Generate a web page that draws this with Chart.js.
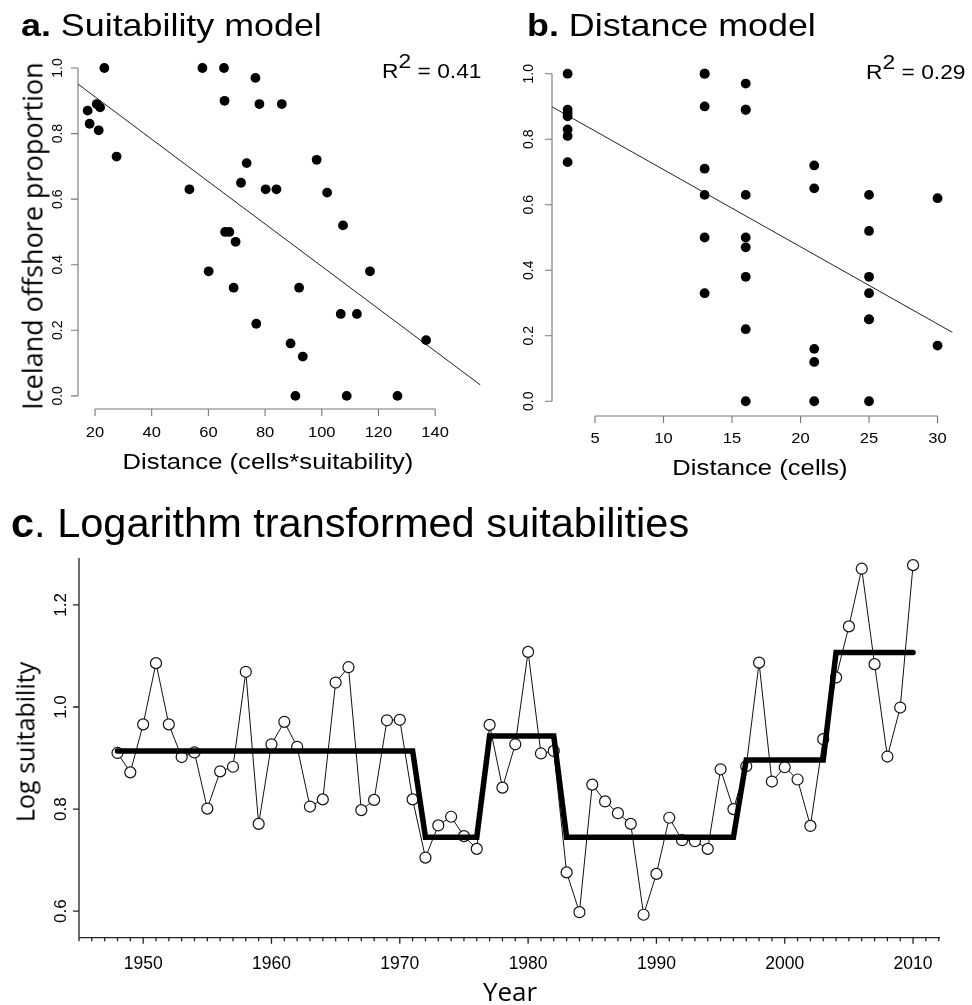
<!DOCTYPE html>
<html>
<head>
<meta charset="utf-8">
<script src="https://cdn.jsdelivr.net/npm/chart.js@4.4.1/dist/chart.umd.min.js"></script>
<style>
body { margin:0; background:#fff; width:972px; height:1005px; overflow:hidden; position:relative;
       font-family:"Liberation Sans", Arial, sans-serif; color:#000; }
.box { position:absolute; }
.t { position:absolute; white-space:nowrap; line-height:1; }
.os { font-family:"Open Sans", sans-serif; }
.sup { position:relative; top:-10px; }
</style>
</head>
<body>
<div class="box" style="left:0;top:0;width:490px;height:500px"><canvas id="chA"></canvas></div>
<div class="box" style="left:490px;top:0;width:482px;height:500px"><canvas id="chB"></canvas></div>
<div class="box" style="left:0;top:500px;width:972px;height:505px"><canvas id="chC"></canvas></div>

<div class="t" style="left:20.7px;top:8.9px;font-size:32px;transform:scaleX(1.12);transform-origin:0 0"><b>a.</b> Suitability model</div>
<div class="t" style="left:527px;top:8.9px;font-size:32px;transform:scaleX(1.12);transform-origin:0 0"><b>b.</b> Distance model</div>
<div class="t" style="left:11px;top:501.5px;font-size:41.5px"><b>c</b>. Logarithm transformed suitabilities</div>

<div class="t" style="left:381.7px;top:61.1px;font-size:20px;transform:scaleX(1.14);transform-origin:0 0">R<span class="sup">2</span> = 0.41</div>
<div class="t" style="left:865.7px;top:62.1px;font-size:20px;transform:scaleX(1.14);transform-origin:0 0">R<span class="sup">2</span> = 0.29</div>

<div class="t" style="left:268px;top:451px;font-size:22.5px;transform:translateX(-50%) scaleX(1.14)">Distance (cells*suitability)</div>
<div class="t" style="left:760px;top:457px;font-size:22.5px;transform:translateX(-50%) scaleX(1.14)">Distance (cells)</div>

<div class="t os" style="left:31.5px;top:236px;font-size:27px;transform:translate(-50%,-50%) rotate(-90deg)">Iceland offshore proportion</div>
<div class="t os" style="left:25.3px;top:742px;font-size:25px;transform:translate(-50%,-50%) rotate(-90deg)">Log suitability</div>
<div class="t os" style="left:510px;top:978px;font-size:26px;transform:translateX(-50%)">Year</div>

<script>
// panel a: proportion vs distance*suitability
let xA = [17.4, 18.1, 20.6, 21.3, 21.8, 23.3, 27.6, 53.3, 57.9, 60.1, 65.5, 65.7, 65.9, 67.4, 68.9, 69.6, 71.5, 73.5, 76.6,
          76.9, 78.0, 80.2, 84.0, 85.9, 89.0, 90.7, 92.0, 93.3, 98.2, 101.9, 106.7, 107.5, 108.8, 112.4, 117.0, 126.7, 136.8];
let yA = [0.87, 0.83, 0.89, 0.81, 0.88, 1.00, 0.73, 0.63, 1.00, 0.38, 1.00, 0.90, 0.50, 0.50, 0.33, 0.47, 0.65, 0.71, 0.97,
          0.22, 0.89, 0.63, 0.63, 0.89, 0.16, 0.00, 0.33, 0.12, 0.72, 0.62, 0.25, 0.52, 0.00, 0.25, 0.38, 0.00, 0.17];
let fitAX = [14, 156];
let fitAY = [0.951, 0.033];

// panel b: proportion vs distance in cells
let xB = [3, 3, 3, 3, 3, 3, 3, 13, 13, 13, 13, 13, 13, 13, 16, 16, 16, 16, 16, 16, 16, 16, 16,
          21, 21, 21, 21, 21, 25, 25, 25, 25, 25, 25, 25, 30, 30];
let yB = [1.00, 0.89, 0.88, 0.87, 0.83, 0.81, 0.73, 1.00, 1.00, 0.90, 0.71, 0.63, 0.50, 0.33,
          0.97, 0.89, 0.89, 0.63, 0.50, 0.47, 0.38, 0.22, 0.00,
          0.72, 0.65, 0.16, 0.12, 0.00, 0.63, 0.52, 0.38, 0.33, 0.25, 0.25, 0.00, 0.62, 0.17];
let fitBX = [1.86, 31.1];
let fitBY = [0.899, 0.210];

// panel c: yearly log suitability 1948-2010 and fitted levels
let firstYear = 1948;
let logSuit = [0.910, 0.872, 0.966, 1.086, 0.966, 0.902, 0.911, 0.801, 0.874, 0.883,
               1.069, 0.771, 0.927, 0.971, 0.922, 0.805, 0.819, 1.048, 1.078, 0.798,
               0.818, 0.974, 0.975, 0.819, 0.705, 0.768, 0.785, 0.747, 0.722, 0.965,
               0.842, 0.927, 1.108, 0.909, 0.914, 0.676, 0.598, 0.848, 0.815, 0.792,
               0.771, 0.593, 0.673, 0.783, 0.739, 0.737, 0.722, 0.878, 0.800, 0.884,
               1.087, 0.854, 0.882, 0.858, 0.767, 0.937, 1.058, 1.158, 1.271, 1.084,
               0.903, 0.999, 1.278];
let segStart = [1948, 1972, 1977, 1983, 1997, 2004];
let segEnd   = [1971, 1976, 1982, 1996, 2003, 2010];
let segLevel = [0.914, 0.745, 0.943, 0.745, 0.896, 1.107];

// ticks
let xTicksA = [20, 40, 60, 80, 100, 120, 140];
let xTicksB = [5, 10, 15, 20, 25, 30];
let yTicks01 = [0, 0.2, 0.4, 0.6, 0.8, 1.0];
let yLabels01 = ['0.0', '0.2', '0.4', '0.6', '0.8', '1.0'];
let yearTicks = [1950, 1960, 1970, 1980, 1990, 2000, 2010];
let yTicksC = [0.6, 0.8, 1.0, 1.2];
let yLabelsC = ['0.6', '0.8', '1.0', '1.2'];
let firstMinor = 1945, lastMinor = 2012;

// R style axes: line only across the ticks (unless full), rotated y labels
let rAxes = {
    id: 'rAxes',
    beforeDatasetsDraw(chart, args, o) {
        let ctx = chart.ctx, ca = chart.chartArea;
        let sx = chart.scales.x, sy = chart.scales.y;
        let xl = o.xTicks.length - 1, yl = o.yTicks.length - 1;
        ctx.save();
        ctx.strokeStyle = o.color;
        ctx.lineWidth = o.lw;
        ctx.beginPath();
        let ax = ca.bottom;
        ctx.moveTo(o.full ? ca.left : sx.getPixelForValue(o.xTicks[0]), ax);
        ctx.lineTo(o.full ? ca.right : sx.getPixelForValue(o.xTicks[xl]), ax);
        o.xTicks.forEach(v => {
            let p = sx.getPixelForValue(v);
            ctx.moveTo(p, ax); ctx.lineTo(p, ax + o.tick);
        });
        if (o.minor) {
            for (let v = o.minor[0]; v <= o.minor[1]; v++) {
                let p = sx.getPixelForValue(v);
                ctx.moveTo(p, ax); ctx.lineTo(p, ax + o.minorLen);
            }
        }
        let ay = ca.left;
        ctx.moveTo(ay, o.full ? ca.bottom : sy.getPixelForValue(o.yTicks[0]));
        ctx.lineTo(ay, o.full ? ca.top : sy.getPixelForValue(o.yTicks[yl]));
        o.yTicks.forEach(v => {
            let p = sy.getPixelForValue(v);
            ctx.moveTo(ay, p); ctx.lineTo(ay - o.tick, p);
        });
        ctx.stroke();

        ctx.fillStyle = '#000';
        ctx.textAlign = 'center';
        ctx.textBaseline = 'alphabetic';
        ctx.font = o.xFont + 'px "Liberation Sans"';
        o.xTicks.forEach(v => {
            ctx.save();
            ctx.translate(sx.getPixelForValue(v), ax + o.xOff);
            ctx.scale(o.sx, 1);
            ctx.fillText(String(v), 0, 0);
            ctx.restore();
        });
        ctx.font = o.yFont + 'px "Liberation Sans"';
        o.yTicks.forEach((v, i) => {
            ctx.save();
            ctx.translate(ay - o.yOff, sy.getPixelForValue(v));
            ctx.rotate(-Math.PI / 2);
            ctx.fillText(o.yLabels[i], 0, 0);
            ctx.restore();
        });
        ctx.restore();
    }
};

let toPts = (xs, ys) => xs.map((x, i) => ({ x: x, y: ys[i] }));

let baseOpts = (pad, xr, yr, axes) => ({
    responsive: true,
    maintainAspectRatio: false,
    animation: false,
    events: [],
    layout: { padding: pad },
    plugins: { legend: { display: false }, tooltip: { enabled: false }, rAxes: axes },
    scales: {
        x: { type: 'linear', min: xr[0], max: xr[1], display: false },
        y: { type: 'linear', min: yr[0], max: yr[1], display: false }
    }
});

let dotSet = (pts) => ({
    data: pts, showLine: false, pointRadius: 4.9, pointBackgroundColor: '#000',
    pointBorderWidth: 0, clip: false
});
let fitSet = (pts) => ({
    data: pts, showLine: true, borderColor: '#222', borderWidth: 1, pointRadius: 0
});

new Chart(document.getElementById('chA'), {
    type: 'scatter',
    data: { datasets: [dotSet(toPts(xA, yA)), fitSet(toPts(fitAX, fitAY))] },
    options: baseOpts({ left: 78, right: 9.5, top: 54.9, bottom: 91 }, [14, 156], [-0.04, 1.04],
        { xTicks: xTicksA, yTicks: yTicks01, yLabels: yLabels01, color: '#777', lw: 1.1, tick: 7,
          xOff: 28, yOff: 16, xFont: 14.5, yFont: 14, sx: 1.14 }),
    plugins: [rAxes]
});

new Chart(document.getElementById('chB'), {
    type: 'scatter',
    data: { datasets: [dotSet(toPts(xB, yB)), fitSet(toPts(fitBX, fitBY))] },
    options: baseOpts({ left: 62, right: 19.4, top: 60.6, bottom: 84 }, [1.86, 31.1], [-0.045, 1.04],
        { xTicks: xTicksB, yTicks: yTicks01, yLabels: yLabels01, color: '#777', lw: 1.1, tick: 7,
          xOff: 27, yOff: 19, xFont: 14.5, yFont: 14, sx: 1.14 }),
    plugins: [rAxes]
});

let obsPts = logSuit.map((v, i) => ({ x: firstYear + i, y: v }));
let stepPts = [];
segLevel.forEach((lv, i) => {
    stepPts.push({ x: segStart[i], y: lv });
    stepPts.push({ x: segEnd[i], y: lv });
});

new Chart(document.getElementById('chC'), {
    type: 'scatter',
    data: {
        datasets: [
            { data: stepPts, showLine: true, borderColor: '#000', borderWidth: 5.5, pointRadius: 0,
              borderJoinStyle: 'miter', borderCapStyle: 'round', order: 1, clip: false },
            { data: obsPts, showLine: true, borderColor: '#111', borderWidth: 1, pointRadius: 5.5,
              pointBackgroundColor: '#fff', pointBorderColor: '#111', pointBorderWidth: 1.2, order: 2, clip: false }
        ]
    },
    options: baseOpts({ left: 79, right: 32, top: 58, bottom: 67.3 }, [1945, 2012.1], [0.548, 1.292],
        { xTicks: yearTicks, yTicks: yTicksC, yLabels: yLabelsC, color: '#222', lw: 1.3, tick: 6,
          minor: [firstMinor, lastMinor], minorLen: 3.5, full: true,
          xOff: 31.6, yOff: 13, xFont: 17.5, yFont: 17, sx: 1 }),
    plugins: [rAxes]
});
</script>
</body>
</html>
